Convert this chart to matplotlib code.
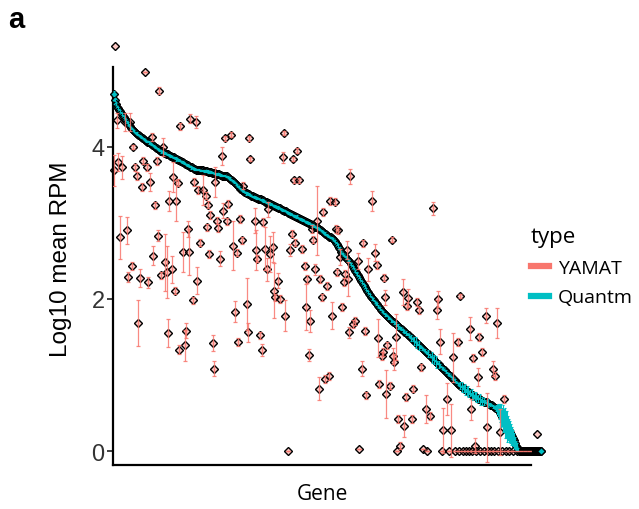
import matplotlib
matplotlib.use("Agg")
import matplotlib.pyplot as plt
from matplotlib.colors import to_rgba
from matplotlib.lines import Line2D

# Quantm mean per gene, genes ranked by decreasing Quantm level
quantm_mean = [
    4.70, 4.62, 4.56, 4.53, 4.51, 4.49, 4.47, 4.45, 4.43, 4.41,
    4.39, 4.37, 4.35, 4.33, 4.31, 4.29, 4.27, 4.25, 4.24, 4.22,
    4.21, 4.19, 4.18, 4.17, 4.16, 4.15, 4.14, 4.13, 4.12, 4.11,
    4.10, 4.09, 4.08, 4.07, 4.07, 4.06, 4.05, 4.04, 4.03, 4.02,
    4.01, 4.00, 3.99, 3.98, 3.97, 3.96, 3.95, 3.94, 3.94, 3.93,
    3.92, 3.92, 3.91, 3.90, 3.90, 3.89, 3.88, 3.88, 3.87, 3.86,
    3.86, 3.85, 3.84, 3.84, 3.83, 3.83, 3.82, 3.81, 3.80, 3.80,
    3.79, 3.78, 3.77, 3.76, 3.76, 3.75, 3.74, 3.73, 3.73, 3.72,
    3.71, 3.71, 3.70, 3.70, 3.70, 3.70, 3.69, 3.69, 3.69, 3.69,
    3.68, 3.68, 3.68, 3.68, 3.67, 3.67, 3.67, 3.67, 3.66, 3.66,
    3.65, 3.65, 3.64, 3.64, 3.64, 3.64, 3.63, 3.63, 3.62, 3.62,
    3.62, 3.62, 3.61, 3.61, 3.60, 3.59, 3.58, 3.57, 3.56, 3.55,
    3.54, 3.53, 3.51, 3.50, 3.48, 3.47, 3.45, 3.44, 3.43, 3.42,
    3.41, 3.40, 3.39, 3.39, 3.38, 3.38, 3.37, 3.36, 3.35, 3.35,
    3.34, 3.34, 3.33, 3.33, 3.32, 3.32, 3.31, 3.31, 3.30, 3.30,
    3.29, 3.28, 3.27, 3.27, 3.26, 3.26, 3.25, 3.25, 3.24, 3.23,
    3.22, 3.22, 3.21, 3.21, 3.20, 3.20, 3.19, 3.18, 3.17, 3.17,
    3.16, 3.16, 3.15, 3.14, 3.13, 3.13, 3.12, 3.12, 3.11, 3.10,
    3.09, 3.09, 3.08, 3.08, 3.07, 3.06, 3.05, 3.05, 3.04, 3.04,
    3.03, 3.02, 3.01, 3.01, 3.00, 3.00, 2.99, 2.98, 2.97, 2.97,
    2.96, 2.95, 2.94, 2.94, 2.93, 2.92, 2.91, 2.90, 2.89, 2.88,
    2.87, 2.86, 2.85, 2.84, 2.83, 2.82, 2.81, 2.81, 2.80, 2.79,
    2.77, 2.76, 2.74, 2.72, 2.70, 2.67, 2.65, 2.62, 2.60, 2.59,
    2.57, 2.56, 2.54, 2.53, 2.51, 2.50, 2.48, 2.46, 2.44, 2.42,
    2.40, 2.37, 2.35, 2.33, 2.31, 2.29, 2.26, 2.24, 2.22, 2.20,
    2.18, 2.16, 2.13, 2.11, 2.09, 2.07, 2.05, 2.03, 2.01, 2.00,
    1.98, 1.96, 1.94, 1.93, 1.91, 1.89, 1.88, 1.86, 1.84, 1.83,
    1.81, 1.80, 1.79, 1.78, 1.76, 1.75, 1.74, 1.72, 1.71, 1.70,
    1.69, 1.68, 1.67, 1.66, 1.64, 1.63, 1.62, 1.61, 1.60, 1.59,
    1.57, 1.56, 1.55, 1.54, 1.53, 1.52, 1.50, 1.49, 1.48, 1.47,
    1.45, 1.44, 1.43, 1.42, 1.40, 1.39, 1.38, 1.37, 1.35, 1.34,
    1.33, 1.32, 1.30, 1.29, 1.28, 1.27, 1.25, 1.24, 1.23, 1.22,
    1.20, 1.19, 1.17, 1.16, 1.15, 1.14, 1.12, 1.11, 1.09, 1.08,
    1.07, 1.06, 1.04, 1.03, 1.01, 1.00, 0.99, 0.98, 0.96, 0.95,
    0.94, 0.93, 0.91, 0.90, 0.88, 0.87, 0.86, 0.85, 0.84, 0.83,
    0.82, 0.81, 0.80, 0.79, 0.78, 0.77, 0.76, 0.75, 0.74, 0.73,
    0.72, 0.72, 0.71, 0.70, 0.69, 0.69, 0.68, 0.67, 0.66, 0.66,
    0.65, 0.65, 0.64, 0.64, 0.63, 0.62, 0.61, 0.61, 0.60, 0.59,
    0.58, 0.57, 0.56, 0.55, 0.54, 0.52, 0.50, 0.47, 0.45, 0.43,
    0.40, 0.37, 0.35, 0.32, 0.30, 0.27, 0.25, 0.22, 0.20, 0.17,
    0.14, 0.10, 0.07, 0.05, 0.02, 0.00, 0.00, 0.00, 0.00, 0.00,
    0.00, 0.00, 0.00, 0.00, 0.00, 0.00, 0.00, 0.00, 0.00, 0.00,
    0.00, 0.00, 0.00, 0.00, 0.00, 0.00, 0.00, 0.00,
]

# Quantm sd per gene (same order as quantm_mean)
quantm_sd = [
    0.03, 0.02, 0.01, 0.01, 0.01, 0.01, 0.01, 0.01, 0.01, 0.01,
    0.01, 0.01, 0.01, 0.01, 0.02, 0.01, 0.01, 0.01, 0.01, 0.01,
    0.01, 0.01, 0.01, 0.02, 0.01, 0.01, 0.01, 0.01, 0.01, 0.01,
    0.01, 0.01, 0.01, 0.01, 0.01, 0.02, 0.01, 0.01, 0.01, 0.01,
    0.01, 0.01, 0.01, 0.01, 0.01, 0.01, 0.01, 0.02, 0.01, 0.01,
    0.01, 0.01, 0.01, 0.01, 0.01, 0.01, 0.01, 0.01, 0.01, 0.01,
    0.01, 0.01, 0.02, 0.01, 0.01, 0.01, 0.01, 0.01, 0.01, 0.01,
    0.01, 0.01, 0.01, 0.01, 0.01, 0.01, 0.01, 0.02, 0.01, 0.01,
    0.01, 0.01, 0.01, 0.01, 0.01, 0.01, 0.01, 0.01, 0.01, 0.01,
    0.01, 0.01, 0.01, 0.01, 0.02, 0.01, 0.01, 0.01, 0.01, 0.01,
    0.01, 0.01, 0.01, 0.01, 0.01, 0.01, 0.01, 0.01, 0.01, 0.01,
    0.01, 0.01, 0.01, 0.01, 0.01, 0.01, 0.02, 0.01, 0.01, 0.01,
    0.01, 0.01, 0.01, 0.01, 0.01, 0.01, 0.01, 0.01, 0.01, 0.01,
    0.01, 0.01, 0.02, 0.01, 0.01, 0.01, 0.01, 0.01, 0.01, 0.01,
    0.01, 0.01, 0.01, 0.01, 0.01, 0.01, 0.01, 0.01, 0.01, 0.02,
    0.01, 0.01, 0.01, 0.01, 0.01, 0.01, 0.01, 0.01, 0.01, 0.01,
    0.01, 0.01, 0.01, 0.01, 0.02, 0.01, 0.01, 0.01, 0.01, 0.01,
    0.01, 0.01, 0.01, 0.01, 0.01, 0.01, 0.01, 0.01, 0.01, 0.01,
    0.01, 0.01, 0.01, 0.02, 0.01, 0.01, 0.01, 0.01, 0.01, 0.01,
    0.01, 0.01, 0.01, 0.01, 0.01, 0.01, 0.01, 0.01, 0.02, 0.01,
    0.01, 0.01, 0.01, 0.01, 0.01, 0.01, 0.01, 0.01, 0.01, 0.01,
    0.01, 0.02, 0.01, 0.01, 0.01, 0.01, 0.01, 0.01, 0.01, 0.01,
    0.01, 0.01, 0.01, 0.01, 0.02, 0.01, 0.01, 0.01, 0.01, 0.01,
    0.01, 0.01, 0.02, 0.01, 0.01, 0.01, 0.01, 0.01, 0.01, 0.01,
    0.01, 0.01, 0.01, 0.02, 0.01, 0.01, 0.01, 0.01, 0.01, 0.01,
    0.01, 0.02, 0.01, 0.01, 0.01, 0.01, 0.01, 0.01, 0.02, 0.01,
    0.01, 0.01, 0.02, 0.01, 0.01, 0.01, 0.02, 0.01, 0.01, 0.01,
    0.01, 0.02, 0.01, 0.01, 0.02, 0.01, 0.01, 0.02, 0.01, 0.01,
    0.02, 0.01, 0.02, 0.01, 0.03, 0.01, 0.01, 0.02, 0.01, 0.02,
    0.02, 0.01, 0.03, 0.01, 0.01, 0.02, 0.01, 0.04, 0.01, 0.02,
    0.05, 0.01, 0.07, 0.02, 0.01, 0.06, 0.02, 0.01, 0.02, 0.01,
    0.01, 0.02, 0.01, 0.01, 0.05, 0.01, 0.02, 0.01, 0.07, 0.02,
    0.06, 0.01, 0.08, 0.02, 0.01, 0.05, 0.02, 0.01, 0.01, 0.02,
    0.01, 0.01, 0.02, 0.01, 0.01, 0.02, 0.01, 0.01, 0.01, 0.02,
    0.01, 0.02, 0.01, 0.01, 0.01, 0.02, 0.05, 0.01, 0.07, 0.02,
    0.05, 0.07, 0.02, 0.05, 0.07, 0.02, 0.04, 0.01, 0.07, 0.05,
    0.02, 0.05, 0.07, 0.02, 0.05, 0.01, 0.07, 0.02, 0.05, 0.01,
    0.05, 0.02, 0.01, 0.02, 0.05, 0.01, 0.02, 0.01, 0.01, 0.02,
    0.01, 0.02, 0.04, 0.06, 0.08, 0.10, 0.12, 0.15, 0.12, 0.18,
    0.15, 0.20, 0.18, 0.20, 0.16, 0.15, 0.14, 0.14, 0.12, 0.10,
    0.10, 0.08, 0.06, 0.05, 0.02, 0.00, 0.00, 0.00, 0.00, 0.00,
    0.00, 0.00, 0.00, 0.00, 0.00, 0.00, 0.00, 0.00, 0.00, 0.00,
    0.00, 0.00, 0.00, 0.00, 0.00, 0.00, 0.00, 0.00,
]

# YAMAT mean and sd for genes that sit off the Quantm curve
yamat_gene = [
    0, 1, 3, 4, 6, 8, 11, 13, 14, 16, 18, 19, 21, 23, 24, 26, 28, 29, 31, 33,
    34, 36, 38, 39, 41, 43, 44, 45, 47, 49, 51, 53, 54, 55, 58, 59, 61, 62, 64, 65,
    66, 69, 71, 72, 74, 75, 76, 79, 80, 82, 83, 84, 86, 89, 92, 93, 94, 95, 96, 99,
    100, 101, 103, 104, 106, 108, 109, 111, 113, 114, 117, 119, 121, 123, 124, 126, 128, 129, 133, 134,
    135, 136, 141, 142, 143, 146, 148, 149, 151, 153, 154, 156, 159, 160, 161, 164, 166, 169, 170, 171,
    174, 176, 178, 179, 180, 181, 183, 185, 188, 191, 192, 193, 195, 196, 198, 199, 201, 203, 205, 206,
    208, 209, 211, 213, 215, 216, 218, 221, 222, 223, 224, 226, 228, 230, 231, 233, 234, 235, 236, 239,
    241, 244, 245, 248, 249, 251, 252, 254, 258, 261, 263, 264, 265, 268, 269, 270, 271, 272, 273, 276,
    278, 279, 280, 282, 283, 284, 286, 289, 290, 292, 293, 294, 298, 299, 303, 305, 307, 309, 312, 313,
    316, 319, 323, 324, 326, 328, 329, 333, 335, 337, 339, 341, 344, 345, 346, 349, 352, 355, 356, 357,
    358, 359, 361, 362, 364, 365, 366, 368, 370, 372, 373, 374, 377, 379, 380, 381, 383, 384, 386, 388,
    390, 392, 395, 399, 403, 407, 411, 415, 419, 423, 425, 427,
]
yamat_mean = [
    3.69, 5.32, 4.35, 3.80, 2.81, 3.73, 4.33, 2.90, 2.29, 4.33, 2.43, 4.00, 3.73, 3.62, 1.68, 2.28, 3.47, 3.82, 4.98, 3.73,
    2.22, 3.54, 4.13, 2.57, 3.23, 3.81, 2.83, 4.74, 2.31, 4.00, 2.48, 2.35, 1.55, 3.29, 2.39, 3.60, 2.11, 3.29, 3.53, 1.33,
    4.27, 2.62, 1.39, 1.58, 2.92, 2.62, 4.37, 1.98, 3.54, 4.33, 2.24, 3.43, 2.74, 3.43, 3.36, 2.94, 3.24, 2.59, 3.10, 1.42,
    1.08, 3.54, 3.03, 2.93, 2.53, 3.88, 3.16, 4.11, 3.02, 3.25, 4.16, 2.70, 1.83, 2.61, 1.43, 3.05, 2.77, 3.49, 1.93, 1.56,
    4.11, 3.84, 3.03, 2.64, 2.53, 1.52, 1.33, 3.01, 2.66, 2.39, 3.18, 2.59, 2.68, 2.11, 2.02, 2.24, 2.00, 3.86, 4.18, 1.78,
    0.00, 2.64, 2.86, 3.84, 3.56, 2.74, 3.95, 3.56, 2.66, 2.43, 1.89, 2.26, 1.26, 1.71, 2.92, 2.78, 2.39, 3.03, 0.82, 2.26,
    2.02, 3.14, 0.95, 2.17, 0.99, 3.29, 1.78, 3.28, 2.92, 2.35, 2.90, 2.55, 1.89, 2.22, 2.33, 2.64, 2.26, 1.56, 3.61, 1.67,
    1.71, 2.50, 0.03, 1.08, 2.73, 1.58, 0.73, 2.39, 3.29, 2.61, 2.45, 1.49, 0.88, 1.25, 1.30, 2.28, 2.02, 0.75, 1.39, 0.86,
    2.78, 1.25, 1.17, 1.50, 0.00, 0.42, 0.07, 2.09, 0.33, 0.71, 1.91, 2.01, 0.42, 0.82, 1.96, 1.85, 1.10, 0.03, 0.55, 0.00,
    0.46, 3.19, 1.86, 2.00, 1.44, 0.00, 0.27, 0.68, 0.00, 0.27, 1.23, 0.00, 1.43, 0.00, 2.04, 0.00, 0.00, 0.00, 1.61, 0.55,
    0.00, 1.22, 0.07, 0.00, 0.97, 1.50, 0.00, 1.30, 0.00, 1.78, 0.31, 0.00, 0.00, 1.08, 0.00, 0.99, 1.68, 0.00, 0.25, 0.00,
    0.68, 0.00, 0.00, 0.00, 0.00, 0.00, 0.00, 0.00, 0.00, 0.22, 0.00, 0.00,
]
yamat_sd = [
    0.20, 0.03, 0.10, 0.12, 0.28, 0.15, 0.12, 0.18, 0.07, 0.12, 0.05, 0.03, 0.05, 0.05, 0.30, 0.12, 0.05, 0.05, 0.00, 0.05,
    0.07, 0.12, 0.05, 0.12, 0.05, 0.05, 0.07, 0.05, 0.05, 0.12, 0.37, 0.34, 0.18, 0.13, 0.18, 0.20, 0.05, 0.27, 0.05, 0.06,
    0.05, 0.26, 0.20, 0.10, 0.10, 0.30, 0.06, 0.05, 0.05, 0.08, 0.18, 0.05, 0.05, 0.20, 0.05, 0.05, 0.05, 0.05, 0.05, 0.11,
    0.10, 0.20, 0.05, 0.05, 0.10, 0.12, 0.10, 0.03, 0.05, 0.05, 0.03, 0.32, 0.14, 0.05, 0.05, 0.05, 0.05, 0.05, 0.34, 0.12,
    0.03, 0.03, 0.16, 0.26, 0.05, 0.05, 0.08, 0.05, 0.28, 0.15, 0.10, 0.24, 0.20, 0.36, 0.05, 0.10, 0.05, 0.07, 0.03, 0.20,
    0.00, 0.08, 0.05, 0.03, 0.03, 0.05, 0.03, 0.03, 0.05, 0.05, 0.30, 0.05, 0.08, 0.15, 0.05, 0.05, 0.07, 0.45, 0.15, 0.05,
    0.05, 0.05, 0.05, 0.05, 0.05, 0.05, 0.18, 0.05, 0.05, 0.05, 0.05, 0.11, 0.05, 0.05, 0.05, 0.12, 0.22, 0.07, 0.10, 0.05,
    0.05, 0.10, 0.00, 0.10, 0.05, 0.05, 0.05, 0.15, 0.13, 0.11, 0.05, 0.25, 0.05, 0.05, 0.05, 0.05, 0.10, 0.32, 0.05, 0.05,
    0.03, 0.10, 0.10, 0.30, 0.00, 0.05, 0.05, 0.17, 0.15, 0.05, 0.05, 0.12, 0.05, 0.05, 0.05, 0.05, 0.05, 0.00, 0.18, 0.00,
    0.05, 0.08, 0.12, 0.10, 0.17, 0.00, 0.30, 0.21, 0.00, 0.35, 0.32, 0.00, 0.05, 0.00, 0.03, 0.00, 0.00, 0.00, 0.15, 0.14,
    0.00, 0.05, 0.10, 0.00, 0.12, 0.05, 0.00, 0.05, 0.00, 0.10, 0.45, 0.00, 0.00, 0.10, 0.00, 0.05, 0.20, 0.00, 0.30, 0.00,
    0.05, 0.00, 0.00, 0.00, 0.00, 0.00, 0.00, 0.00, 0.00, 0.33, 0.00, 0.00,
]

YAMAT_COL = "#F8766D"
QUANTM_COL = "#00BFC4"
SANS = ["Liberation Sans", "DejaVu Sans"]
OPEN = ["Open Sans", "DejaVu Sans"]

genes = list(range(len(quantm_mean)))
# Quantm bars only where there is a spread
q_bar = [(g, m, s) for g, m, s in zip(genes, quantm_mean, quantm_sd) if s > 0]
q_bar_gene = [b[0] for b in q_bar]
q_bar_mean = [b[1] for b in q_bar]
q_bar_sd = [b[2] for b in q_bar]

fig = plt.figure(figsize=(6.39, 5.10), dpi=100)
ax = fig.add_axes([113 / 639, 44 / 510, 418 / 639, 398 / 510])

# diamonds with black outline, pale fill for the scattered YAMAT points
pt_kw = dict(ls="none", marker="D", ms=4.3, mec="black", mew=1.0, clip_on=False)
ax.plot(yamat_gene, yamat_mean, mfc=to_rgba(YAMAT_COL, 0.4), zorder=2, **pt_kw)
ax.plot(genes, quantm_mean, mfc=QUANTM_COL, zorder=3, **pt_kw)

ax.errorbar(q_bar_gene, q_bar_mean, yerr=q_bar_sd, fmt="none", ecolor=QUANTM_COL,
            elinewidth=0.8, capsize=1.0, capthick=0.8, zorder=4)
ax.errorbar(yamat_gene, yamat_mean, yerr=yamat_sd, fmt="none", ecolor=YAMAT_COL,
            elinewidth=0.9, capsize=1.5, capthick=0.9, alpha=0.85, zorder=5)

ax.set_xlim(-1, 417)
ax.set_ylim(-0.184, 5.05)
ax.set_xticks([])
ax.set_yticks([0, 2, 4])
ax.set_yticklabels(["0", "2", "4"], family=SANS, fontsize=17, color="#333333")
ax.tick_params(axis="y", length=4, width=1.3, pad=2, color="#333333")
for side in ["top", "right"]:
    ax.spines[side].set_visible(False)
for side in ["left", "bottom"]:
    ax.spines[side].set_linewidth(1.6)

ax.set_ylabel("Log10 mean RPM", family=SANS, fontsize=17.5)
ax.yaxis.set_label_coords(-0.098, 0.52)
ax.set_xlabel("Gene", family=OPEN, fontsize=15)
ax.xaxis.set_label_coords(0.5, -0.045)
ax.xaxis.label.set_va("top")

handles = [Line2D([], [], color=YAMAT_COL, lw=4.5), Line2D([], [], color=QUANTM_COL, lw=4.5)]
leg = ax.legend(handles, ["YAMAT", "Quantm"], title="type", loc="upper left",
                bbox_to_anchor=(531 / 639, 1 - 227 / 510), bbox_transform=fig.transFigure,
                frameon=False, handlelength=0.95, handletextpad=0.45, labelspacing=0.6,
                borderpad=0, borderaxespad=0, alignment="left",
                prop={"family": OPEN, "size": 14},
                title_fontproperties={"family": OPEN, "size": 16})

fig.text(8 / 639, 1 - 28 / 510, "a", family=SANS, fontsize=21, fontweight="bold", va="baseline")

fig.savefig("out.png", dpi=100)
